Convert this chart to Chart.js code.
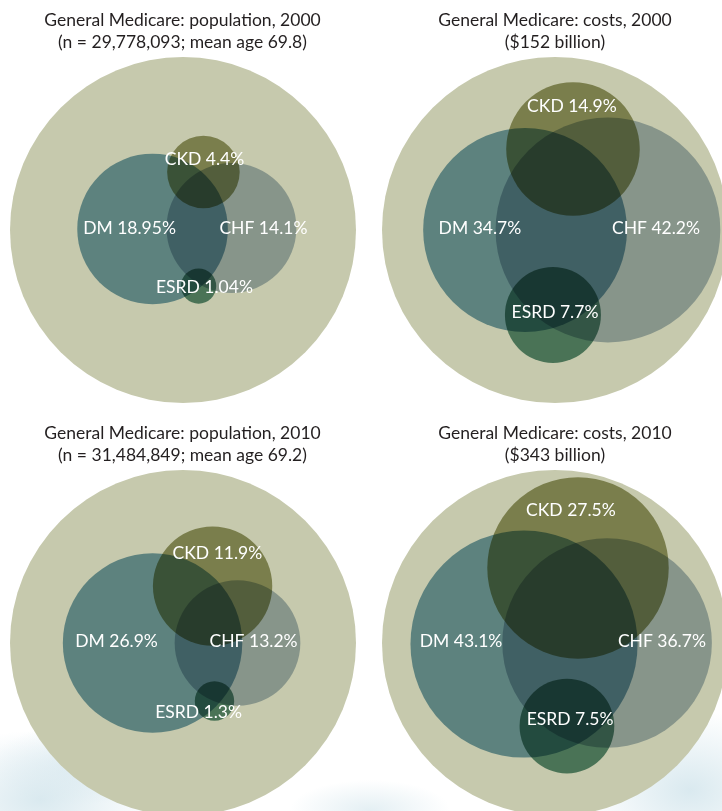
<!DOCTYPE html>
<html>
<head>
<meta charset="utf-8">
<script src="https://cdn.jsdelivr.net/npm/chart.js"></script>
<style>
  html, body { margin: 0; padding: 0; background: #fff; }
  #wrap { position: relative; width: 722px; height: 811px; overflow: hidden; }
  #texture {
    position: absolute; left: 0; top: 690px; width: 722px; height: 121px;
    background:
      radial-gradient(ellipse 120px 70px at 40px 110px, rgba(205,226,234,0.75), rgba(205,226,234,0) 100%),
      radial-gradient(ellipse 90px 40px at 80px 75px, rgba(214,231,238,0.6), rgba(214,231,238,0) 100%),
      radial-gradient(ellipse 80px 30px at 370px 120px, rgba(210,229,236,0.6), rgba(210,229,236,0) 100%),
      radial-gradient(ellipse 110px 80px at 690px 100px, rgba(205,226,234,0.75), rgba(205,226,234,0) 100%);
    background-repeat: no-repeat;
  }
  .title {
    position: absolute; width: 360px; text-align: center;
    font-family: Lato, "Open Sans", sans-serif; font-size: 17.5px; line-height: 22px; color: #231f20;
  }
  canvas { position: absolute; }
</style>
</head>
<body>
<div id="wrap">
  <div id="texture"></div>
</div>
<script>
// four Venn panels: outer circle = all Medicare, inner circles area-proportional to share
const groups = ['DM', 'CHF', 'CKD', 'ESRD'];
const pop2000 = [18.95, 14.1, 4.4, 1.04];
const cost2000 = [34.7, 42.2, 14.9, 7.7];
const pop2010 = [26.9, 13.2, 11.9, 1.3];
const cost2010 = [43.1, 36.7, 27.5, 7.5];
const titles = [
  ['General Medicare: population, 2000', '(n = 29,778,093; mean age 69.8)'],
  ['General Medicare: costs, 2000', '($152 billion)'],
  ['General Medicare: population, 2010', '(n = 31,484,849; mean age 69.2)'],
  ['General Medicare: costs, 2010', '($343 billion)']
];

// placement of each circle and label, in units of the outer radius
const centers = [
  [[-0.176, 0.006], [0.280, 0.012], [0.118, 0.335], [0.090, -0.324]],
  [[-0.173, 0], [0.306, 0], [0.104, 0.468], [-0.012, -0.491]],
  [[-0.176, 0], [0.315, 0], [0.171, 0.329], [0.182, -0.335]],
  [[-0.179, -0.006], [0.301, 0], [0.133, 0.434], [0.069, -0.480]]
];
const labelPos = [
  [[-0.309, 0.012], [0.465, 0.012], [0.124, 0.410], [0.124, -0.329]],
  [[-0.434, 0.012], [0.584, 0.012], [0.098, 0.717], [0, -0.474]],
  [[-0.384, 0.012], [0.408, 0.012], [0.199, 0.520], [0.090, -0.399]],
  [[-0.543, 0.012], [0.618, 0.012], [0.092, 0.769], [0.087, -0.439]]
];

// multiply "inks"; outer circle colour first
const colors = ['#c6c9ad', '#78a5ba', '#aebdcb', '#9da06f', '#5f927f'];

const panels = [
  { values: pop2000, cx: 182.5, cy: 230, titleTop: 9 },
  { values: cost2000, cx: 555, cy: 230, titleTop: 9 },
  { values: pop2010, cx: 182.5, cy: 642.5, titleTop: 422 },
  { values: cost2010, cx: 555, cy: 642.5, titleTop: 422 }
];
const R_PX = 173;
const SIZE = 400;

function vennPlugin(labels) {
  return {
    id: 'venn',
    beforeDatasetsDraw(chart) {
      chart.ctx.save();
      chart.ctx.globalCompositeOperation = 'multiply';
    },
    afterDatasetsDraw(chart) {
      const ctx = chart.ctx;
      ctx.restore();
      const { x, y } = chart.scales;
      ctx.save();
      ctx.fillStyle = '#ffffff';
      ctx.font = '17.5px Lato, "Open Sans", sans-serif';
      ctx.textAlign = 'center';
      ctx.textBaseline = 'middle';
      labels.forEach(l => ctx.fillText(l.text, x.getPixelForValue(l.x), y.getPixelForValue(l.y)));
      ctx.restore();
    }
  };
}

function buildPanel(p, idx) {
  const wrap = document.getElementById('wrap');
  const t = document.createElement('div');
  t.className = 'title';
  t.style.left = (p.cx - 180) + 'px';
  t.style.top = p.titleTop + 'px';
  t.innerHTML = titles[idx].join('<br>');
  wrap.appendChild(t);

  const cv = document.createElement('canvas');
  cv.width = SIZE; cv.height = SIZE;
  cv.style.left = (p.cx - SIZE / 2) + 'px';
  cv.style.top = (p.cy - SIZE / 2) + 'px';
  wrap.insertBefore(cv, t);

  const pcts = [100, ...p.values];
  const points = [{ x: 0, y: 0 }, ...centers[idx].map(c => ({ x: c[0], y: c[1] }))];
  const labels = groups.map((g, i) => ({
    text: `${g} ${p.values[i]}%`, x: labelPos[idx][i][0], y: labelPos[idx][i][1]
  }));
  const lim = SIZE / 2 / R_PX;

  const chart = new Chart(cv.getContext('2d'), {
    type: 'bubble',
    data: {
      datasets: [{
        data: points,
        backgroundColor: colors,
        borderWidth: 0,
        hoverBorderWidth: 0,
        radius: 0,
        clip: false
      }]
    },
    options: {
      responsive: false,
      animation: false,
      events: [],
      layout: { autoPadding: false, padding: 0 },
      plugins: { legend: { display: false }, tooltip: { enabled: false } },
      scales: {
        x: { type: 'linear', min: -lim, max: lim, display: false },
        y: { type: 'linear', min: -lim, max: lim, display: false }
      }
    },
    plugins: [vennPlugin(labels)]
  });

  // circle area proportional to share: radius (data units) = sqrt(pct/100), converted by the x scale
  const xs = chart.scales.x;
  points.forEach((pt, i) => {
    pt.r = xs.getPixelForValue(Math.sqrt(pcts[i] / 100)) - xs.getPixelForValue(0);
  });
  chart.update();
}

panels.forEach(buildPanel);
</script>
</body>
</html>
